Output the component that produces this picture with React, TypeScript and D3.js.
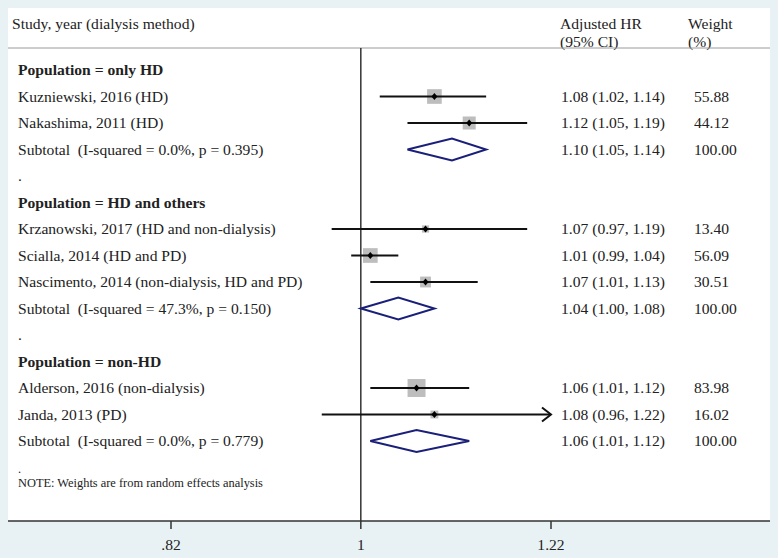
import React from "react";
import * as d3 from "d3";

const rowLabels = [
  "Population = only HD",
  "Kuzniewski, 2016 (HD)",
  "Nakashima, 2011 (HD)",
  "Subtotal  (I-squared = 0.0%, p = 0.395)",
  ".",
  "Population = HD and others",
  "Krzanowski, 2017 (HD and non-dialysis)",
  "Scialla, 2014 (HD and PD)",
  "Nascimento, 2014 (non-dialysis, HD and PD)",
  "Subtotal  (I-squared = 47.3%, p = 0.150)",
  ".",
  "Population = non-HD",
  "Alderson, 2016 (non-dialysis)",
  "Janda, 2013 (PD)",
  "Subtotal  (I-squared = 0.0%, p = 0.779)",
];
const rowKinds = [
  "head", "study", "study", "sub", "dot",
  "head", "study", "study", "study", "sub", "dot",
  "head", "study", "study", "sub",
];
const hrValues = [null, 1.08, 1.12, 1.10, null, null, 1.07, 1.01, 1.07, 1.04, null, null, 1.06, 1.08, 1.06];
const ciLow = [null, 1.02, 1.05, 1.05, null, null, 0.97, 0.99, 1.01, 1.00, null, null, 1.01, 0.96, 1.01];
const ciHigh = [null, 1.14, 1.19, 1.14, null, null, 1.19, 1.04, 1.13, 1.08, null, null, 1.12, 1.22, 1.12];
const weights = [null, 55.88, 44.12, 100.0, null, null, 13.4, 56.09, 30.51, 100.0, null, null, 83.98, 16.02, 100.0];
const arrowRows = [false, false, false, false, false, false, false, false, false, false, false, false, false, true, false];

const tickValues = [0.82, 1, 1.22];
const tickLabels = [".82", "1", "1.22"];
const noteText = "NOTE: Weights are from random effects analysis";

const W = 778;
const H = 558;
const FONT = "'Liberation Serif', 'Times New Roman', serif";
const FS = 15.6;

export default function App() {
  const x = d3.scaleLog().domain([0.82, 1.22]).range([171, 551]);
  const y = (i: number) => 70 + i * 26.5;
  const axisY = 521;
  const panel = { l: 8, r: 770, t: 8 };
  const fmt = d3.format(".2f");

  return (
    <svg
      width={W}
      height={H}
      style={{ position: "absolute", left: 0, top: 0, fontFamily: FONT }}
    >
      <rect x={0} y={0} width={W} height={H} fill="#e8f2f5" />
      <rect x={panel.l} y={panel.t} width={panel.r - panel.l} height={axisY - panel.t} fill="#ffffff" />

      {/* header */}
      <text x={12} y={29} fontSize={FS} fill="#222">Study, year (dialysis method)</text>
      <text x={560} y={29} fontSize={FS} fill="#222">Adjusted HR</text>
      <text x={560} y={47} fontSize={FS} fill="#222">(95% CI)</text>
      <text x={688} y={29} fontSize={FS} fill="#222">Weight</text>
      <text x={688} y={47} fontSize={FS} fill="#222">(%)</text>
      <line x1={panel.l} x2={panel.r} y1={48} y2={48} stroke="#9a9a9a" strokeWidth={1} />

      {/* null line */}
      <line x1={x(1)} x2={x(1)} y1={48} y2={axisY} stroke="#333" strokeWidth={1.5} />

      {rowLabels.map((lab, i) => {
        const yy = y(i);
        const kind = rowKinds[i];
        const hr = hrValues[i];
        const lo = ciLow[i];
        const hi = ciHigh[i];
        const w = weights[i];
        const els: React.ReactNode[] = [];
        els.push(
          <text
            key="lab"
            x={18}
            y={yy + 5}
            fontSize={FS}
            fontWeight={kind === "head" ? "bold" : "normal"}
            fill="#222"
          >
            {lab.replace("  ", " \u00a0")}
          </text>
        );
        if (hr != null && lo != null && hi != null && w != null) {
          if (kind === "study") {
            const side = 1.96 * Math.sqrt(w);
            const cx = x(hr);
            els.push(
              <rect key="box" x={cx - side / 2} y={yy - side / 2} width={side} height={side} fill="#bdbdbd" />
            );
            els.push(
              <line key="ci" x1={x(lo)} x2={x(hi)} y1={yy} y2={yy} stroke="#111" strokeWidth={2} />
            );
            if (arrowRows[i]) {
              const tx = x(hi);
              els.push(
                <path
                  key="arr"
                  d={`M${tx - 9},${yy - 7} L${tx},${yy} L${tx - 9},${yy + 7}`}
                  fill="none"
                  stroke="#111"
                  strokeWidth={2}
                />
              );
            }
            els.push(
              <path
                key="pt"
                d={`M${cx},${yy - 3.5} L${cx + 3},${yy} L${cx},${yy + 3.5} L${cx - 3},${yy} Z`}
                fill="#000"
              />
            );
          } else if (kind === "sub") {
            const h = 11;
            els.push(
              <path
                key="dia"
                d={`M${x(lo)},${yy} L${x(hr)},${yy - h} L${x(hi)},${yy} L${x(hr)},${yy + h} Z`}
                fill="none"
                stroke="#1a1f7a"
                strokeWidth={2}
              />
            );
          }
          els.push(
            <text key="hr" x={561} y={yy + 5} fontSize={FS} fill="#222">
              {`${fmt(hr)} (${fmt(lo)}, ${fmt(hi)})`}
            </text>
          );
          els.push(
            <text key="w" x={694} y={yy + 5} fontSize={FS} fill="#222">
              {fmt(w)}
            </text>
          );
        }
        return <g key={i}>{els}</g>;
      })}

      {/* note */}
      <text x={18} y={473} fontSize={12.4} fill="#222">.</text>
      <text x={18} y={487} fontSize={12.4} fill="#222">{noteText}</text>

      {/* axis */}
      <line x1={panel.l} x2={panel.r} y1={axisY} y2={axisY} stroke="#333" strokeWidth={1.5} />
      {tickValues.map((t, i) => (
        <g key={i}>
          <line x1={x(t)} x2={x(t)} y1={axisY} y2={axisY + 8} stroke="#333" strokeWidth={1.5} />
          <text x={x(t)} y={550} fontSize={FS} textAnchor="middle" fill="#222">
            {tickLabels[i]}
          </text>
        </g>
      ))}
    </svg>
  );
}
